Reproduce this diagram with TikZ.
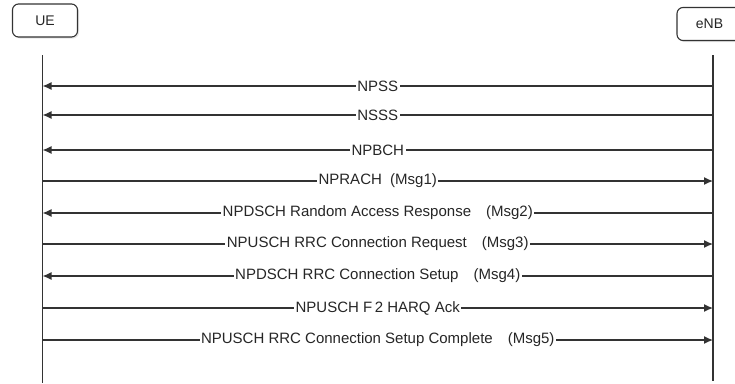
\documentclass[tikz,border=0pt]{standalone}
\usepackage{fontspec}
\setmainfont{Liberation Sans}
\usetikzlibrary{arrows.meta,shadows,positioning}

\begin{document}
\begin{tikzpicture}[x=1pt,y=-1pt,
  entity/.style={draw=black!80,line width=1.1pt,rounded corners=6pt,fill=white,
    minimum width=65pt,minimum height=33pt,text=black!85,font=\fontsize{14}{16}\selectfont,
    drop shadow={shadow xshift=1.5pt,shadow yshift=-1.5pt,opacity=0.2}},
  lifeline/.style={black!80,line width=1.3pt},
  msg/.style={black!80,line width=1.3pt,-{Latex[length=9pt,width=8pt]}},
  lbl/.style={fill=white,inner sep=1.5pt,text=black!85,font=\fontsize{15}{17}\selectfont}]
\useasboundingbox (0,0) rectangle (735,383);
\clip (0,0) rectangle (735,383);

% Entities
\node[entity] (ue) at (45,20.5) {UE};
\node[entity] (enb) at (709.5,24) {eNB};

% Lifelines
\coordinate (ue-top) at (42.5,55);
\coordinate (ue-bot) at (42.5,383);
\coordinate (enb-top) at (713,55);
\coordinate (enb-bot) at (713,381);
\draw[lifeline] (ue-top) -- (ue-bot);
\draw[lifeline] (enb-top) -- (enb-bot);

% Messages (d = eNB to UE, u = UE to eNB)
\foreach \i/\y/\dir/\txt in {
  1/86/d/{NPSS},
  2/115/d/{NSSS},
  3/150/d/{NPBCH},
  4/181/u/{NPRACH\ \ (Msg1)},
  5/213/d/{NPDSCH Random Access Response\quad(Msg2)},
  6/244/u/{NPUSCH RRC Connection Request\quad(Msg3)},
  7/276/d/{NPDSCH RRC Connection Setup\quad(Msg4)},
  8/308/u/{NPUSCH F\,2 HARQ Ack\ },
  9/340/u/{NPUSCH RRC Connection Setup Complete\quad(Msg5)}
} {
  \coordinate (ue-\i) at (42.5,\y);
  \coordinate (enb-\i) at (713,\y);
  \if\dir d
    \draw[msg] (enb-\i) -- node[lbl] (m\i) {\txt} (ue-\i);
  \else
    \draw[msg] (ue-\i) -- node[lbl] (m\i) {\txt} (enb-\i);
  \fi
}
\end{tikzpicture}
\end{document}
